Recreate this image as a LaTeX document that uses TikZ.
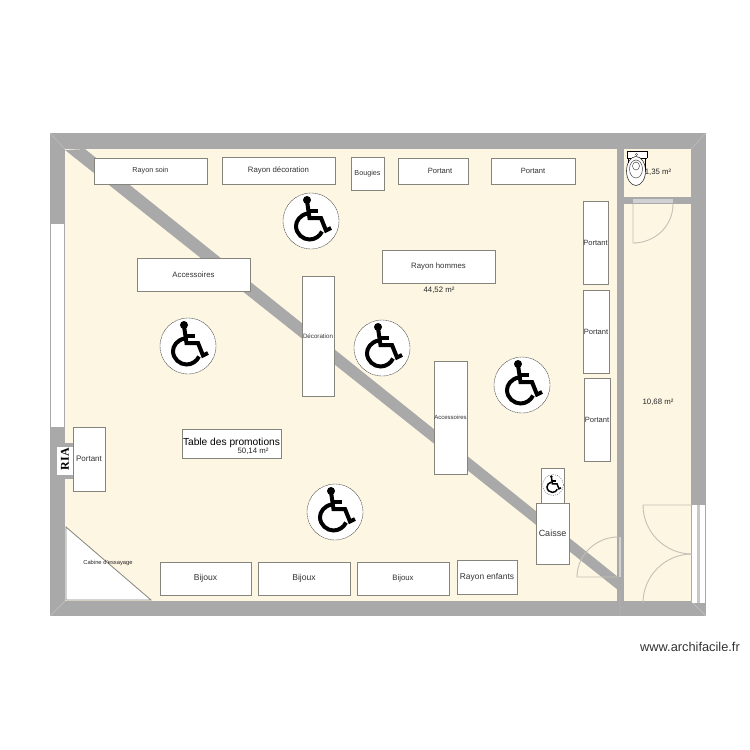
\documentclass[tikz,border=0pt]{standalone}
\usepackage{fontspec}
\setmainfont{Liberation Sans}
\newfontfamily\riafont{Liberation Serif}
\definecolor{floorc}{HTML}{FDF6E3}
\definecolor{wallc}{HTML}{A9A9A9}
\definecolor{doorc}{HTML}{C4C0B4}
\definecolor{edgec}{HTML}{85857D}
\tikzset{
  wall/.style={fill=wallc,draw=none},
  mitre/.style={draw=white!30!wallc,line width=0.4pt},
  furn/.style={draw=edgec,fill=white,line width=1pt,anchor=north west,inner sep=0pt,outer sep=0pt,align=center,text=black!80},
  lbl/.style={inner sep=0pt,text=black!85},
  doorline/.style={draw=doorc,line width=0.9pt},
  doorband/.style={fill=black!18,draw=none},
  wheel/.pic={
    \fill[white] (0,0) circle (28);
    \draw[black!70,line width=0.4pt,dash pattern=on 2pt off 0.5pt] (0,0) circle (28);
    \fill[black] (-4,-21) circle (4);
    \draw[black,line width=4pt,line join=miter] (-4,-20) -- (-1.5,-3) -- (10,-3) -- (15,9.5) -- (20,7);
    \draw[black,line width=3.6pt] (-2,-10) -- (7,-10);
    \draw[black,line width=4pt] (-3.5,-7.5) .. controls (-11,-6) and (-15,0) .. (-15,5) .. controls (-15,13) and (-8,18.5) .. (-1.5,18.5) .. controls (4,18.5) and (9,15) .. (11,10.5);
  },
  smallwheel/.pic={
    \begin{scope}[scale=0.4]
    \draw[black!70,line width=0.4pt,dash pattern=on 1pt off 1.2pt] (0,0) circle (26);
    \fill[black] (-4,-21) circle (3.6);
    \draw[black,line width=1.5pt] (-4,-20) -- (-1.5,-3) -- (10,-3) -- (15,9.5) -- (20,7);
    \draw[black,line width=1.3pt] (-2,-10) -- (7,-10);
    \draw[black,line width=1.5pt] (-3.5,-7.5) .. controls (-11,-6) and (-15,0) .. (-15,5) .. controls (-15,13) and (-8,18.5) .. (-1.5,18.5) .. controls (4,18.5) and (9,15) .. (11,10.5);
    \end{scope}
  }
}
\begin{document}
\begin{tikzpicture}[x=1pt,y=-1pt]
\useasboundingbox (0,0) rectangle (750,750);
% walls and floors
\fill[wallc] (50,133) -- (706,133) -- (706,616) -- (50,616) -- cycle;
\fill[floorc] (65,149) rectangle (617,601);
\fill[floorc] (624,149) rectangle (691,197);
\fill[floorc] (624,204) rectangle (691,601);
\fill[wall] (65,150) -- (85,149) -- (618,577) -- (618,590) -- cycle;
\draw[mitre] (50,133) -- (65,149) (691,149) -- (706,133) (50,616) -- (65,601) (691,601) -- (706,616) (620,591) -- (620,616);
% windows
\fill[white] (51,224) rectangle (64,427);
\fill[white] (692,505) rectangle (705,603);
\fill[black!22] (697,505) rectangle (700,603);
% doors
\fill[doorband] (633,199) rectangle (673,203);
\draw[doorline] (633,204) -- (633,243) .. controls (655,243) and (673,226) .. (673,204);
\fill[doorband] (619,537) rectangle (621,577);
\draw[doorline] (618,577) -- (577,577) .. controls (577,555) and (596,537) .. (618,537);
\draw[doorline] (692,505) -- (643,505) .. controls (643,532) and (665,554) .. (692,554);
\draw[doorline] (643,603) .. controls (643,576) and (665,554) .. (692,554);
% RIA
\node[draw=wallc,line width=4pt,fill=white,minimum width=21pt,minimum height=32pt,inner sep=0pt,anchor=north west] (ria) at (53,443) {};
\node[rotate=90,font=\riafont\bfseries\fontsize{12}{12}\selectfont,inner sep=0pt] (riat) at (65,459) {RIA};
% furniture
\node[furn,minimum width=113pt,minimum height=26pt,font=\fontsize{7.2}{8}\selectfont] (soin) at (94,158) {Rayon soin};
\node[furn,minimum width=113pt,minimum height=27pt,font=\fontsize{7.8}{9}\selectfont] (deco) at (222,157) {Rayon décoration};
\node[furn,minimum width=33pt,minimum height=33pt,font=\fontsize{7.2}{8}\selectfont] (boug) at (351,157) {Bougies};
\node[furn,minimum width=70pt,minimum height=26pt,font=\fontsize{7.6}{9}\selectfont] (p1) at (398,158) {\hspace{14pt}Portant};
\node[furn,minimum width=84pt,minimum height=26pt,font=\fontsize{7.6}{9}\selectfont] (p2) at (491,158) {Portant};
\node[furn,minimum width=25pt,minimum height=83pt,font=\fontsize{7.6}{9}\selectfont] (p3) at (583,201) {Portant};
\node[furn,minimum width=26pt,minimum height=83pt,font=\fontsize{7.6}{9}\selectfont] (p4) at (583,290) {Portant};
\node[furn,minimum width=26pt,minimum height=83pt,font=\fontsize{7.6}{9}\selectfont] (p5) at (584,378) {Portant};
\node[furn,minimum width=113pt,minimum height=33pt,font=\fontsize{7.8}{9}\selectfont] (homme) at (382,250) {Rayon hommes};
\node[furn,minimum width=113pt,minimum height=33pt,font=\fontsize{7.8}{9}\selectfont] (acc1) at (137,258) {Accessoires};
\node[furn,minimum width=32pt,minimum height=120pt,font=\fontsize{6.2}{7}\selectfont] (decor) at (302,276) {Décoration};
\node[furn,minimum width=33pt,minimum height=113pt,font=\fontsize{6}{7}\selectfont] (acc2) at (434,361) {Accessoires};
\node[furn,minimum width=99pt,minimum height=29pt,font=\fontsize{10.2}{12}\selectfont,text=black] (promo) at (182,429) {\raisebox{3pt}{Table des promotions}};
\node[furn,minimum width=32pt,minimum height=64pt,font=\fontsize{8}{9}\selectfont] (p6) at (73,427) {Portant};
\node[furn,minimum width=23pt,minimum height=35pt] (hbox) at (541,468) {};
\node[furn,minimum width=33pt,minimum height=61pt,font=\fontsize{9}{11}\selectfont] (caisse) at (536,503) {Caisse};
\node[furn,minimum width=91pt,minimum height=33pt,font=\fontsize{8.6}{10}\selectfont] (b1) at (160,562) {Bijoux};
\node[furn,minimum width=92pt,minimum height=33pt,font=\fontsize{8.6}{10}\selectfont] (b2) at (258,562) {Bijoux};
\node[furn,minimum width=92pt,minimum height=33pt,font=\fontsize{7.8}{9}\selectfont] (b3) at (357,562) {Bijoux};
\node[furn,minimum width=60pt,minimum height=34pt,font=\fontsize{8.4}{10}\selectfont] (enf) at (457,560) {Rayon enfants};
% fitting room
\draw[draw=edgec,fill=white,line width=0.8pt] (66,527) -- (151,600) -- (66,600) -- cycle;
\node[lbl,font=\fontsize{5.8}{7}\selectfont] (cab) at (108,563) {Cabine d'essayage};
% toilet
\fill[white] (627,151) rectangle (647,158);
\draw[black,line width=0.7pt] (627,158) -- (627,151) -- (647,151) -- (647,158);
\draw[black,line width=0.9pt] (627,158) -- (647,158);
\fill[white,draw=black!80,line width=0.6pt] (636,171) ellipse (9.5 and 14.5);
\draw[black!70,line width=0.5pt] (636,169) ellipse (6.5 and 9);
\draw[black!70,line width=0.5pt] (636,166) ellipse (3.5 and 4);
\draw[black!70,line width=0.4pt] (636.5,154.5) circle (1.2);
\draw[black,line width=0.9pt] (628,158) -- (628,163) (645,158) -- (645,170);
% accessibility symbols
\pic at (311,221) {wheel};
\pic at (188,346) {wheel};
\pic at (382,348) {wheel};
\pic at (522,385) {wheel};
\pic at (335,512) {wheel};
\pic at (553,485) {smallwheel};
% labels
\node[lbl,font=\fontsize{7.8}{9}\selectfont] (a1) at (439,290) {44,52 m²};
\node[lbl,font=\fontsize{7.8}{9}\selectfont] (a2) at (253,451) {50,14 m²};
\node[lbl,font=\fontsize{7.8}{9}\selectfont] (a3) at (658,402) {10,68 m²};
\node[lbl,font=\fontsize{7.8}{9}\selectfont] (a4) at (658,172) {1,35 m²};
\node[lbl,font=\fontsize{12.8}{14}\selectfont,text=black!80] (url) at (690,647) {www.archifacile.fr};
\end{tikzpicture}
\end{document}
